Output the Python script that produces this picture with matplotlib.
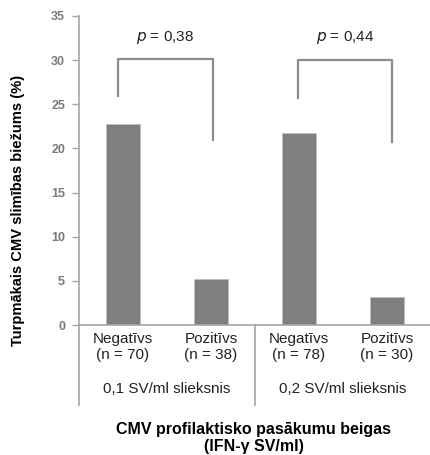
import matplotlib
matplotlib.use("Agg")
import matplotlib.pyplot as plt

categories = ["Negatīvs\n(n = 70)", "Pozitīvs\n(n = 38)", "Negatīvs\n(n = 78)", "Pozitīvs\n(n = 30)"]
values = [22.8, 5.2, 21.8, 3.2]
groups = ["0,1 SV/ml slieksnis", "0,2 SV/ml slieksnis"]
p_labels = ["0,38", "0,44"]
yticks = [0, 5, 10, 15, 20, 25, 30, 35]

plt.rcParams['font.family'] = ['Liberation Sans', 'DejaVu Sans']
fig = plt.figure(figsize=(4.31, 4.55), dpi=100)
ax = fig.add_axes([79/431, 130/455, 352/431, 309/455])

xs = [0.5, 1.5, 2.5, 3.5]
ax.bar(xs, values, width=0.39, color="#7f7f7f", edgecolor="#bdbdbd", linewidth=0.6, zorder=2)
ax.set_xlim(0, 4)
ax.set_ylim(0, 35)
ax.set_yticks(yticks)
ax.set_yticklabels([str(t) for t in yticks], fontsize=9, fontweight='bold', color="#7a7a7a")
ax.tick_params(axis='y', length=5, width=1, color="#a6a6a6", pad=5)
ax.set_xticks([])
for s in ['top', 'right']:
    ax.spines[s].set_visible(False)
for s in ['left', 'bottom']:
    ax.spines[s].set_color("#a6a6a6")
    ax.spines[s].set_linewidth(1.2)

# category labels
for x, lab in zip(xs, categories):
    ax.annotate(lab, xy=(x, 0), xycoords=('data', 'axes fraction'), xytext=(0, -5),
                textcoords='offset points', ha='center', va='top', fontsize=11,
                linespacing=1.2, color="#222222")
# group labels
for i, g in enumerate(groups):
    ax.annotate(g, xy=(1 + 2*i, 0), xycoords=('data', 'axes fraction'), xytext=(0, -41),
                textcoords='offset points', ha='center', va='top', fontsize=11, color="#222222")
# separators
for xsep in [0, 2, 4]:
    ax.plot([xsep, xsep], [0, -80/309], transform=ax.get_xaxis_transform(), color="#a6a6a6",
            linewidth=1.2, clip_on=False)

# brackets
brackets = [((0.44, 25.9), (1.52, 20.9), 30.1), ((2.49, 25.7), (3.56, 20.7), 30.0)]
for (lx, ly), (rx, ry), top in brackets:
    ax.plot([lx, lx, rx, rx], [ly, top, top, ry], color="#8c8c8c", linewidth=1.6, zorder=3)
for i, p in enumerate(p_labels):
    cx = (brackets[i][0][0] + brackets[i][1][0]) / 2
    ax.text(cx, 32.6, r"$p$ = " + p, ha='center', va='center', fontsize=11, color="#222222")

fig.text(18/431, 1 - 210/455, "Turpmākais CMV slimības biežums (%)", rotation=90,
         ha='center', va='center', fontsize=10.6, fontweight='bold')
fig.text(254/431, 1 - 438/455, "CMV profilaktisko pasākumu beigas\n(IFN-γ SV/ml)", ha='center',
         va='center', fontsize=11.5, fontweight='bold', linespacing=1.15)

fig.savefig("out.png", dpi=100)
